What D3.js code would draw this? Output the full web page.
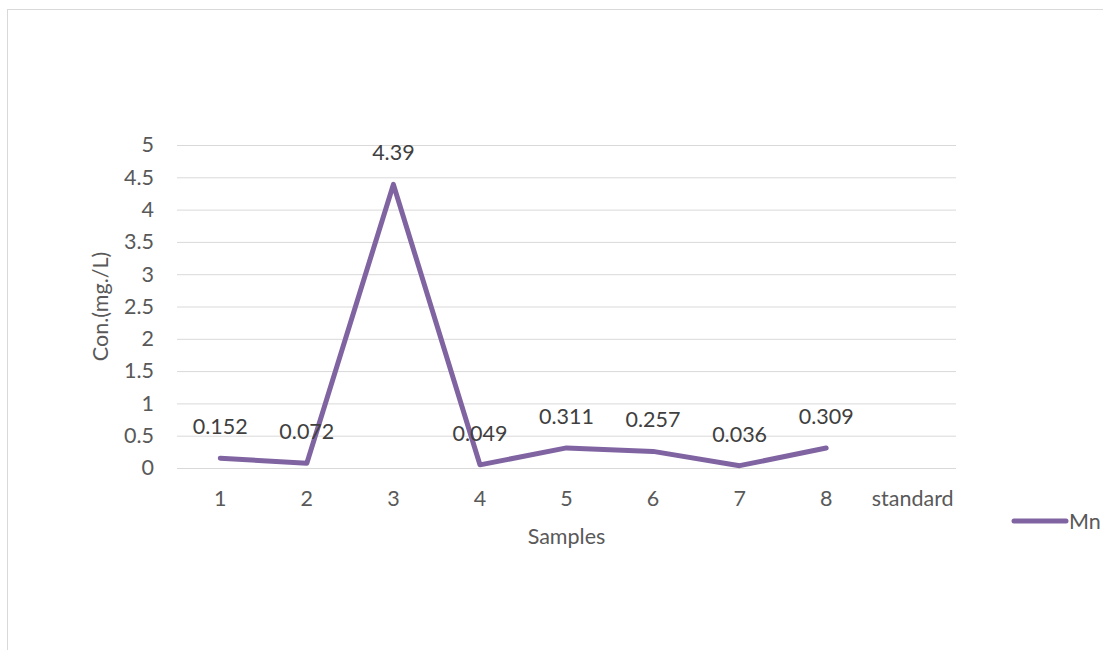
<!DOCTYPE html>
<html>
<head>
<meta charset="utf-8">
<script src="https://cdn.jsdelivr.net/npm/d3@7"></script>
<style>
  html, body { margin: 0; padding: 0; background: #fff; }
  svg text { font-family: Lato, "Open Sans", sans-serif; fill: #595959; }
</style>
</head>
<body>
<svg id="chart" width="1103" height="650"></svg>
<script>
// Mn concentration per sample
const categories = ["1", "2", "3", "4", "5", "6", "7", "8", "standard"];
const mnValues = [0.152, 0.072, 4.39, 0.049, 0.311, 0.257, 0.036, 0.309, null];
const yTicks = [0, 0.5, 1, 1.5, 2, 2.5, 3, 3.5, 4, 4.5, 5];
const seriesName = "Mn";

const svg = d3.select("#chart");
const lineColor = "#8064a2";
const fontFam = 'Lato, "Open Sans", sans-serif';
const fs = 21.5;

// outer chart frame
svg.append("rect")
  .attr("x", 7.5).attr("y", 9.5)
  .attr("width", 1110).attr("height", 660)
  .attr("fill", "none").attr("stroke", "#d9d9d9").attr("stroke-width", 1);

const plot = { left: 177, right: 956, top: 145, bottom: 468 };

const x = d3.scaleBand().domain(categories).range([plot.left, plot.right]);
const y = d3.scaleLinear().domain([0, 5]).range([plot.bottom, plot.top]);

// horizontal gridlines
svg.append("g")
  .selectAll("line")
  .data(yTicks)
  .join("line")
  .attr("x1", plot.left).attr("x2", plot.right)
  .attr("y1", d => y(d) + 0.5).attr("y2", d => y(d) + 0.5)
  .attr("stroke", "#d9d9d9").attr("stroke-width", 1);

// y axis labels
const yAxis = d3.axisLeft(y).tickValues(yTicks).tickSize(0).tickPadding(0)
  .tickFormat(d3.format("~g"));
const gy = svg.append("g").attr("transform", `translate(${plot.left - 23},0)`).call(yAxis);
gy.select(".domain").remove();
gy.selectAll("text").attr("font-size", fs).style("font-family", fontFam).attr("fill", "#595959");

// x axis labels
const xAxis = d3.axisBottom(x).tickSize(0).tickPadding(0);
const gx = svg.append("g").attr("transform", `translate(0,${plot.bottom + 23})`).call(xAxis);
gx.select(".domain").remove();
gx.selectAll("text").attr("font-size", fs).style("font-family", fontFam).attr("fill", "#595959");

// axis titles
svg.append("text")
  .attr("transform", `translate(108,${(plot.top + plot.bottom) / 2}) rotate(-90)`)
  .attr("text-anchor", "middle")
  .attr("font-size", fs)
  .text("Con.(mg./L)");

svg.append("text")
  .attr("x", (plot.left + plot.right) / 2)
  .attr("y", 544)
  .attr("text-anchor", "middle")
  .attr("font-size", fs)
  .text("Samples");

// data line
const pts = categories.map((c, i) => ({ c, v: mnValues[i] }));
const line = d3.line()
  .defined(d => d.v !== null)
  .x(d => x(d.c) + x.bandwidth() / 2)
  .y(d => y(d.v));

svg.append("path")
  .datum(pts)
  .attr("d", line)
  .attr("fill", "none")
  .attr("stroke", lineColor)
  .attr("stroke-width", 5)
  .attr("stroke-linejoin", "round")
  .attr("stroke-linecap", "round");

// value labels
svg.append("g")
  .selectAll("text")
  .data(pts.filter(d => d.v !== null))
  .join("text")
  .attr("x", d => x(d.c) + x.bandwidth() / 2)
  .attr("y", d => y(d.v) - 24)
  .attr("text-anchor", "middle")
  .attr("font-size", fs)
  .style("fill", "#404040")
  .text(d => String(d.v));

// legend
const lg = svg.append("g");
lg.append("line")
  .attr("x1", 1014).attr("x2", 1066)
  .attr("y1", 521).attr("y2", 521)
  .attr("stroke", lineColor).attr("stroke-width", 5)
  .attr("stroke-linecap", "round");
lg.append("text")
  .attr("x", 1069).attr("y", 529)
  .attr("font-size", fs)
  .text(seriesName);
</script>
</body>
</html>
